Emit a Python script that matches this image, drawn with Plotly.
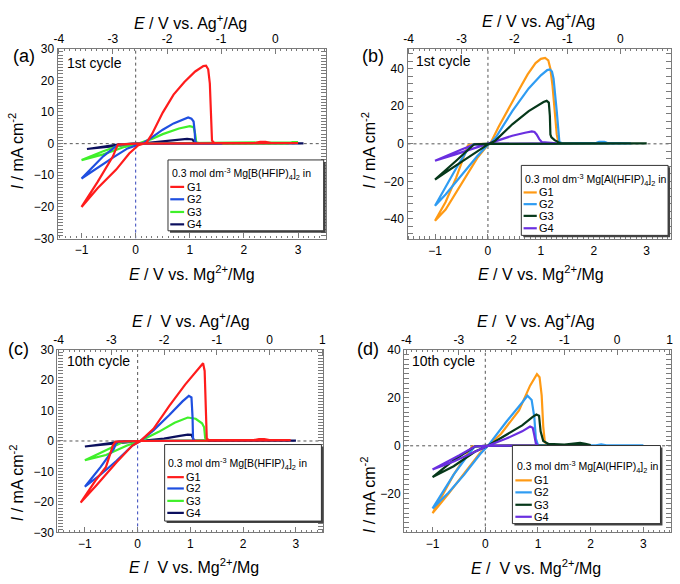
import plotly.graph_objects as go

# ---------------- data: E / V vs. Mg2+/Mg  and  I / mA cm-2 ----------------
# (a) Mg[B(HFIP)4]2, 1st cycle
A_G1_E = [0.0, -0.33, -0.36, -0.42, -0.7, -1.0, -0.7, -0.36, -0.12, 0.05, 0.2, 0.3, 0.5, 0.7, 0.9, 1.1, 1.25, 1.3, 1.34, 1.37, 1.39, 1.41, 1.45, 2.2, 2.3, 2.4, 2.5, 3.0, 0.0]
A_G1_I = [0.0, -0.3, -1.5, -4.0, -12.0, -20.0, -14.0, -8.2, -3.1, -0.5, 0.3, 3.0, 9.8, 15.5, 19.5, 22.8, 24.5, 24.6, 23.5, 19.0, 10.0, 1.0, 0.2, 0.2, 0.6, 0.6, 0.2, 0.2, 0.0]
A_G2_E = [0.0, -0.3, -0.38, -0.6, -1.0, -0.7, -0.4, -0.15, 0.05, 0.15, 0.3, 0.5, 0.7, 0.9, 0.97, 1.03, 1.07, 1.09, 1.1, 1.13, 1.6, 0.0]
A_G2_I = [0.0, -0.3, -1.0, -4.0, -11.0, -7.5, -4.2, -1.5, -0.2, 0.3, 2.0, 4.4, 6.4, 8.0, 8.3, 7.9, 7.0, 4.0, 0.8, 0.0, 0.0, 0.0]
A_G3_E = [0.0, -0.25, -0.6, -1.0, -0.6, -0.2, 0.05, 0.3, 0.5, 0.8, 1.0, 1.07, 1.1, 1.12, 1.2, 2.8, 2.9, 3.0, 0.0]
A_G3_I = [0.0, -0.3, -2.4, -5.2, -3.4, -1.0, 0.0, 1.5, 3.0, 4.8, 5.5, 5.2, 3.0, 0.3, 0.1, 0.1, 0.5, 0.5, 0.0]
A_G4_E = [0.0, -0.3, -0.9, -0.5, -0.1, 0.1, 0.4, 0.7, 0.85, 0.95, 1.05, 1.08, 1.1, 3.1, 0.0]
A_G4_I = [0.0, -0.2, -1.7, -1.0, -0.2, 0.0, 0.6, 1.2, 1.5, 1.5, 1.3, 0.5, 0.1, 0.1, 0.0]

# (b) Mg[Al(HFIP)4]2, 1st cycle
B_G1_E = [0.0, -0.3, -0.38, -0.6, -0.8, -1.0, -0.8, -0.6, -0.4, -0.2, 0.0, 0.05, 0.2, 0.4, 0.6, 0.75, 0.9, 1.0, 1.08, 1.14, 1.18, 1.22, 1.27, 1.3, 1.33, 1.4, 2.3, 0.0]
B_G1_I = [0.0, -0.2, -1.0, -18.0, -31.0, -41.0, -35.0, -26.0, -17.0, -7.5, -0.5, 0.5, 9.0, 19.5, 29.5, 37.0, 43.0, 45.3, 45.8, 44.5, 40.0, 31.0, 17.0, 5.0, 1.0, 0.3, 0.3, 0.0]
B_G2_E = [0.0, -0.28, -0.35, -0.6, -0.8, -1.0, -0.8, -0.5, -0.2, 0.0, 0.05, 0.15, 0.46, 0.77, 1.0, 1.12, 1.17, 1.21, 1.24, 1.3, 1.33, 1.35, 1.4, 2.05, 2.1, 2.2, 2.25, 2.7, 0.0]
B_G2_I = [0.0, -0.3, -1.5, -13.0, -23.0, -33.0, -27.0, -17.0, -6.5, -0.5, 0.3, 3.5, 17.4, 29.5, 36.5, 39.3, 39.6, 38.5, 34.7, 17.4, 5.2, 1.0, 0.3, 0.5, 1.0, 1.0, 0.5, 0.3, 0.0]
B_G3_E = [0.0, -0.26, -0.6, -1.0, -0.6, -0.3, 0.0, 0.14, 0.46, 0.77, 0.95, 1.05, 1.11, 1.15, 1.17, 1.18, 1.2, 1.26, 1.33, 1.38, 3.0, 0.0]
B_G3_I = [0.0, -0.2, -9.0, -19.0, -11.5, -5.7, -0.3, 1.7, 10.4, 17.4, 20.8, 22.3, 22.9, 22.0, 15.0, 5.0, 3.5, 2.0, 0.9, 0.2, 0.2, 0.0]
B_G4_E = [0.0, -0.25, -0.5, -1.0, -0.6, -0.3, 0.0, 0.05, 0.46, 0.7, 0.83, 0.88, 0.92, 0.97, 1.02, 1.3, 0.0]
B_G4_I = [0.0, -0.3, -3.0, -9.0, -5.5, -2.7, -0.2, 0.2, 4.3, 5.9, 6.6, 6.3, 5.0, 2.5, 0.9, 0.2, 0.0]

# (c) Mg[B(HFIP)4]2, 10th cycle
C_G1_E = [0.0, -0.42, -0.47, -0.6, -0.8, -1.08, -0.78, -0.4, -0.1, 0.05, 0.3, 0.6, 0.9, 1.2, 1.24, 1.27, 1.29, 1.31, 1.35, 1.75, 2.2, 2.3, 2.4, 2.5, 2.9, 0.0]
C_G1_I = [0.0, -0.2, -1.5, -8.5, -13.0, -20.2, -14.5, -7.0, -1.5, 0.0, 4.0, 11.5, 18.5, 25.0, 25.5, 23.0, 10.0, 0.8, 0.3, 0.3, 0.3, 0.6, 0.6, 0.3, 0.3, 0.0]
C_G2_E = [0.0, -0.4, -0.45, -0.7, -1.0, -0.7, -0.4, -0.1, 0.05, 0.3, 0.6, 0.85, 0.97, 1.02, 1.04, 1.05, 1.08, 0.0]
C_G2_I = [0.0, -0.3, -2.5, -8.5, -15.0, -11.0, -6.5, -1.5, 0.0, 3.5, 8.5, 13.0, 14.8, 14.3, 8.0, 0.5, 0.1, 0.0]
C_G3_E = [0.0, -0.3, -0.6, -1.0, -0.6, -0.2, 0.05, 0.4, 0.7, 0.95, 1.1, 1.22, 1.26, 1.28, 1.3, 0.0]
C_G3_I = [0.0, -0.5, -3.0, -6.3, -4.6, -1.5, 0.0, 3.0, 6.0, 7.7, 7.3, 5.8, 4.5, 1.0, 0.2, 0.0]
C_G4_E = [0.0, -0.3, -1.0, -0.5, -0.1, 0.1, 0.5, 0.8, 0.95, 1.02, 1.05, 1.07, 3.0, 0.0]
C_G4_I = [0.0, -0.2, -1.8, -1.0, -0.2, 0.0, 0.8, 1.7, 2.1, 2.0, 1.0, 0.1, 0.1, 0.0]

# (d) Mg[Al(HFIP)4]2, 10th cycle
D_G1_E = [0.0, -0.25, -0.3, -0.6, -1.0, -0.7, -0.4, -0.1, 0.05, 0.3, 0.64, 0.85, 0.98, 1.03, 1.07, 1.1, 1.13, 1.2, 0.0]
D_G1_I = [0.0, -0.3, -2.0, -12.0, -28.0, -20.0, -11.5, -3.0, 0.0, 5.0, 14.7, 25.0, 29.8, 28.5, 21.0, 8.0, 1.5, 0.2, 0.0]
D_G2_E = [0.0, -0.2, -0.3, -0.6, -1.0, -0.7, -0.4, -0.1, 0.05, 0.4, 0.7, 0.8, 0.88, 0.93, 0.96, 1.0, 2.1, 2.2, 2.3, 3.0, 0.0]
D_G2_I = [0.0, -0.3, -3.0, -12.0, -26.0, -19.5, -12.0, -3.5, 0.0, 10.0, 18.0, 20.8, 19.0, 12.0, 3.0, 0.3, 0.2, 0.6, 0.2, 0.2, 0.0]
D_G3_E = [0.0, -0.2, -0.6, -1.0, -0.6, -0.2, 0.05, 0.4, 0.7, 0.9, 0.97, 1.02, 1.05, 1.1, 1.2, 1.5, 1.7, 1.8, 1.9, 2.0, 0.0]
D_G3_I = [0.0, -0.3, -6.0, -13.0, -8.5, -2.5, 0.0, 4.5, 8.5, 12.0, 13.0, 12.5, 6.0, 2.0, 0.8, 0.5, 1.0, 1.2, 0.8, 0.3, 0.0]
D_G4_E = [0.0, -0.2, -0.5, -1.0, -0.6, -0.2, 0.05, 0.4, 0.7, 0.85, 0.9, 0.93, 0.96, 1.0, 0.0]
D_G4_I = [0.0, -0.3, -4.0, -9.8, -6.5, -2.5, 0.0, 3.0, 6.0, 8.0, 7.5, 4.5, 1.0, 0.2, 0.0]

SERIES_NAMES = ["G1", "G2", "G3", "G4"]
COLORS_B = ["#ff1c1c", "#1f4fe0", "#3ff02a", "#0b0f5e"]
COLORS_AL = ["#ff9a14", "#2f9cf2", "#06381a", "#6a2fe0"]
TOP_TICKS = [-4, -3, -2, -1, 0, 1]

SALT_B = "0.3 mol dm<sup>-3</sup> Mg[B(HFIP)<sub>4</sub>]<sub>2</sub> in"
SALT_AL = "0.3 mol dm<sup>-3</sup> Mg[Al(HFIP)<sub>4</sub>]<sub>2</sub> in"

W, H = 680, 584
FONT = "Liberation Sans, Arial, sans-serif"
FRAME = "#7a7a7a"


def fx(p):
    return p / W


def fy(p):
    return 1 - p / H


def aid(letter, n):
    return letter if n == 1 else f"{letter}{n}"


PANELS = [
    dict(tag="(a)", cycle="1st cycle", salt=SALT_B, colors=COLORS_B,
         data=[(A_G1_E, A_G1_I), (A_G2_E, A_G2_I), (A_G3_E, A_G3_I), (A_G4_E, A_G4_I)],
         order=[3, 2, 1, 0],
         box=(54.3, 325, 42.7, 237.3), xr=(-1.44, 3.51), yr=(-30, 30), off=2.58, ydt=10, yminor=1,
         tagpos=(20, 50), cyc=(91, 57), ttop=(188, 15), tbot=(190, 273), tleft=(13, 147),
         topsp="", leg=(165.7, 323, 156.7, 229.3), legtitle=(167.5, 171.5),
         rows=[184.3, 197, 210, 222.7], legline=(168, 182), vblue=True),
    dict(tag="(b)", cycle="1st cycle", salt=SALT_AL, colors=COLORS_AL,
         data=[(B_G1_E, B_G1_I), (B_G2_E, B_G2_I), (B_G3_E, B_G3_I), (B_G4_E, B_G4_I)],
         order=[0, 1, 3, 2],
         box=(407.7, 674, 42.7, 237.7), xr=(-1.52, 3.46), yr=(-50.7, 50.7), off=2.5, ydt=20, yminor=4,
         tagpos=(373, 50), cyc=(444, 55), ttop=(540, 13), tbot=(543, 273), tleft=(369, 147),
         topsp="", leg=(522.7, 671, 162.3, 234), legtitle=(524.5, 177.5),
         rows=[190, 202, 214, 226.7], legline=(525, 538.3), vblue=False),
    dict(tag="(c)", cycle="10th cycle", salt=SALT_B, colors=COLORS_B,
         data=[(C_G1_E, C_G1_I), (C_G2_E, C_G2_I), (C_G3_E, C_G3_I), (C_G4_E, C_G4_I)],
         order=[3, 2, 1, 0],
         box=(54, 322.7, 351, 538.3), xr=(-1.52, 3.52), yr=(-30, 30), off=2.5, ydt=10, yminor=1,
         tagpos=(15, 350), cyc=(95.5, 363), ttop=(189, 321), tbot=(192, 573), tleft=(13, 487),
         topsp="\u00a0", leg=(162.3, 320.7, 448.3, 526.7), legtitle=(164, 468.3),
         rows=[481.7, 493.3, 506, 518.3], legline=(165, 181.7), vblue=True),
    dict(tag="(d)", cycle="10th cycle", salt=SALT_AL, colors=COLORS_AL,
         data=[(D_G1_E, D_G1_I), (D_G2_E, D_G2_I), (D_G3_E, D_G3_I), (D_G4_E, D_G4_I)],
         order=[0, 1, 2, 3],
         box=(404.3, 673.7, 351, 538.3), xr=(-1.54, 3.52), yr=(-36, 40), off=2.5, ydt=20, yminor=2,
         tagpos=(368, 350), cyc=(444.5, 363), ttop=(538, 321), tbot=(538, 574), tleft=(368, 500),
         topsp="\u00a0", leg=(513.7, 663.3, 449.3, 529.3), legtitle=(516, 471),
         rows=[485, 497.3, 510, 522.3], legline=(516.7, 533.3), vblue=False),
]

fig = go.Figure()
layout = dict(
    width=W, height=H, margin=dict(l=0, r=0, t=0, b=0), autosize=False,
    paper_bgcolor="white", plot_bgcolor="white", showlegend=False,
    font=dict(family=FONT, size=12, color="black"),
)
shapes, annots = [], []

for i, p in enumerate(PANELS, start=1):
    L, R, T, B = p["box"]
    xid, yid, xtid = aid("x", i), aid("y", i), aid("x", i + 4)
    xa = "xaxis" if i == 1 else f"xaxis{i}"
    ya = "yaxis" if i == 1 else f"yaxis{i}"
    xt = f"xaxis{i + 4}"
    axis_common = dict(showgrid=False, zeroline=False, linecolor=FRAME, linewidth=1.3,
                       ticks="inside", tickcolor=FRAME, ticklen=5, tickwidth=1,
                       tickfont=dict(size=12, family=FONT, color="black"))
    layout[xa] = dict(domain=[fx(L), fx(R)], range=list(p["xr"]), anchor=yid, side="bottom",
                      tickmode="linear", tick0=0, dtick=1, showline=True, mirror=False,
                      minor=dict(ticks="inside", dtick=0.1, ticklen=2.5, tickcolor=FRAME),
                      **axis_common)
    layout[ya] = dict(domain=[fy(B), fy(T)], range=list(p["yr"]), anchor=xid,
                      tickmode="linear", tick0=0, dtick=p["ydt"], showline=True, mirror="allticks",
                      minor=dict(ticks="inside", dtick=p["yminor"], ticklen=2.5, tickcolor=FRAME),
                      **axis_common)
    layout[xt] = dict(overlaying=xid, anchor=yid, side="top",
                      range=[p["xr"][0] - p["off"], p["xr"][1] - p["off"]],
                      tickmode="array", tickvals=TOP_TICKS, ticktext=[str(v) for v in TOP_TICKS],
                      showline=True,
                      minor=dict(ticks="inside", dtick=0.1, ticklen=2.5, tickcolor=FRAME),
                      **axis_common)
    fig.add_trace(go.Scatter(x=[None], y=[None], xaxis=xtid, yaxis=yid, showlegend=False))

    # reference dotted lines at I = 0 and E = 0
    shapes.append(dict(type="line", xref=f"{xid} domain", yref=yid, x0=0, x1=1, y0=0, y1=0,
                       line=dict(color="#555555", width=1, dash="dot"), layer="below"))
    shapes.append(dict(type="line", xref=xid, yref=yid, x0=0, x1=0, y0=0, y1=p["yr"][1],
                       line=dict(color="#555555", width=1, dash="dot"), layer="below"))
    shapes.append(dict(type="line", xref=xid, yref=yid, x0=0, x1=0, y0=p["yr"][0], y1=0,
                       line=dict(color="#3344bb" if p["vblue"] else "#555555", width=1, dash="dot"),
                       layer="below"))

    # curves
    for k in p["order"]:
        e, cur = p["data"][k]
        fig.add_trace(go.Scatter(x=e, y=cur, mode="lines", name=SERIES_NAMES[k],
                                 xaxis=xid, yaxis=yid,
                                 line=dict(color=p["colors"][k], width=2.2)))

    # texts
    annots.append(dict(text=p["tag"], x=fx(p["tagpos"][0]), y=fy(p["tagpos"][1]), xref="paper", yref="paper",
                       showarrow=False, xanchor="center", yanchor="middle", font=dict(size=18, family=FONT)))
    annots.append(dict(text=p["cycle"], x=fx(p["cyc"][0]), y=fy(p["cyc"][1]), xref="paper", yref="paper",
                       showarrow=False, xanchor="center", yanchor="middle", font=dict(size=14, family=FONT)))
    annots.append(dict(text=f"<i>E</i> /{p['topsp']} V vs. Ag<sup>+</sup>/Ag",
                       x=fx(p["ttop"][0]), y=fy(p["ttop"][1]), xref="paper", yref="paper",
                       showarrow=False, xanchor="center", yanchor="middle", font=dict(size=16, family=FONT)))
    annots.append(dict(text=f"<i>E</i> /{p['topsp']} V vs. Mg<sup>2+</sup>/Mg",
                       x=fx(p["tbot"][0]), y=fy(p["tbot"][1]), xref="paper", yref="paper",
                       showarrow=False, xanchor="center", yanchor="middle", font=dict(size=16, family=FONT)))
    annots.append(dict(text="<i>I</i> / mA cm<sup>-2</sup>", textangle=-90,
                       x=fx(p["tleft"][0]), y=fy(p["tleft"][1]), xref="paper", yref="paper",
                       showarrow=False, xanchor="center", yanchor="middle", font=dict(size=16, family=FONT)))

    # legend box (with drop shadow)
    lx0, lx1, ly0, ly1 = p["leg"]
    shapes.append(dict(type="rect", xref="paper", yref="paper",
                       x0=fx(lx0 + 2), x1=fx(lx1 + 2), y0=fy(ly1 + 2), y1=fy(ly0 + 2),
                       fillcolor="#444444", line=dict(width=0)))
    shapes.append(dict(type="rect", xref="paper", yref="paper",
                       x0=fx(lx0), x1=fx(lx1), y0=fy(ly1), y1=fy(ly0),
                       fillcolor="white", line=dict(color="#333333", width=1)))
    annots.append(dict(text=p["salt"], x=fx(p["legtitle"][0]), y=fy(p["legtitle"][1]),
                       xref="paper", yref="paper", showarrow=False, xanchor="left", yanchor="middle",
                       font=dict(size=10.5, family=FONT)))
    for k, ry in enumerate(p["rows"]):
        shapes.append(dict(type="line", xref="paper", yref="paper",
                           x0=fx(p["legline"][0]), x1=fx(p["legline"][1]), y0=fy(ry), y1=fy(ry),
                           line=dict(color=p["colors"][k], width=2.2)))
        annots.append(dict(text=SERIES_NAMES[k], x=fx(p["legline"][1] + 0.5), y=fy(ry),
                           xref="paper", yref="paper", showarrow=False, xanchor="left", yanchor="middle",
                           font=dict(size=11, family=FONT)))

layout["shapes"] = shapes
layout["annotations"] = annots
fig.update_layout(**layout)
fig.write_html("out.html", config=dict(responsive=False, displayModeBar=False),
               post_script="document.body.style.margin='0';")
